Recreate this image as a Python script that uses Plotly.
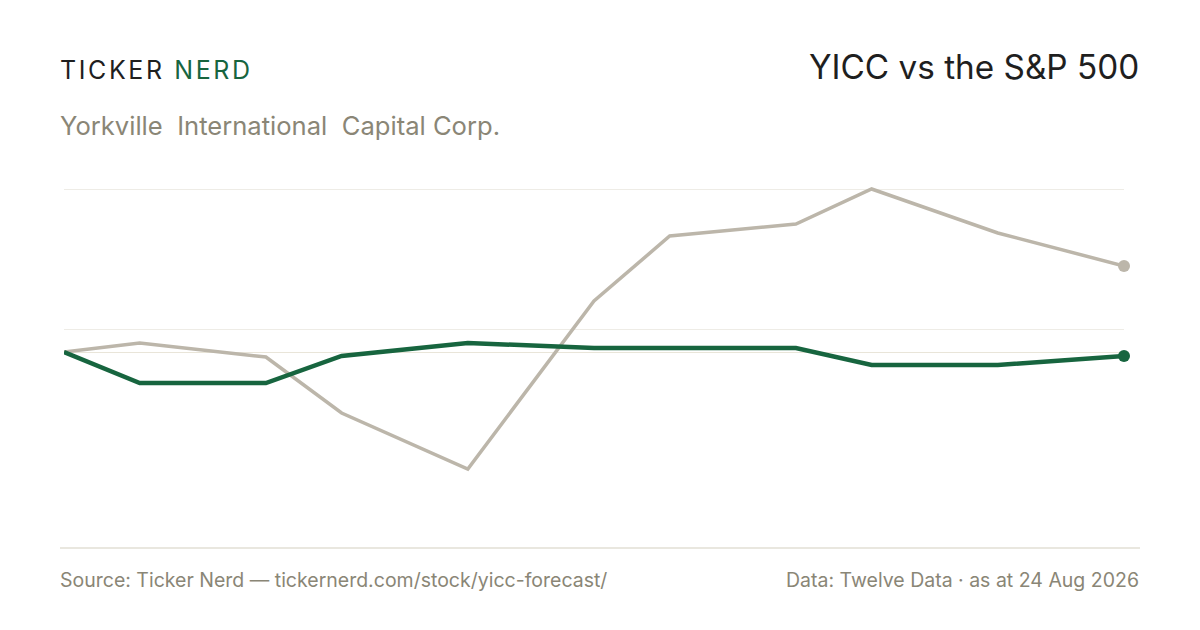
import plotly.graph_objects as go

# ================= DATA =================
# x = spacing of the points along the time axis (arbitrary units)
X_POS = [0, 3, 8, 11, 16, 21, 24, 29, 32, 37, 42]
# % change, rebased to the first point
YICC = [0.0, -3.1, -3.1, -0.4, 0.9, 0.4, 0.4, 0.4, -1.3, -1.3, -0.4]
SP500 = [0.0, 0.9, -0.5, -6.1, -11.7, 5.1, 11.6, 12.8, 16.3, 11.9, 8.6]
GRID_VALS = [2.3, 16.3]

TITLE = "YICC vs the S&P 500"
COMPANY = "Yorkville  International  Capital Corp."
SOURCE = "Source: Ticker Nerd \u2014 tickernerd.com/stock/yicc-forecast/"
DATA_NOTE = "Data: Twelve Data \u00b7 as at 24 Aug 2026"

# ================= STYLE =================
W, H = 1200, 630
OFF = 8  # page body margin
ML, MR, MT, MB = 64 - OFF, 84, 169 - OFF, 149
GREEN = "#17653f"
GREY_LINE = "#bcb6aa"
GREY_TEXT = "#8a8676"
FONT = "Inter"


def px_x(px):
    return (px - OFF - ML) / (W - ML - MR)


def px_y(py):
    return (H - MB - (py - OFF)) / (H - MT - MB)


fig = go.Figure()

fig.add_trace(go.Scatter(
    x=X_POS, y=SP500, mode="lines",
    line=dict(color=GREY_LINE, width=3.5),
    cliponaxis=False, hoverinfo="skip", name="S&P 500"
))
fig.add_trace(go.Scatter(
    x=X_POS[-1:], y=SP500[-1:], mode="markers",
    marker=dict(color=GREY_LINE, size=12),
    cliponaxis=False, hoverinfo="skip", showlegend=False
))
fig.add_trace(go.Scatter(
    x=X_POS, y=YICC, mode="lines",
    line=dict(color=GREEN, width=4.5),
    cliponaxis=False, hoverinfo="skip", name="YICC"
))
fig.add_trace(go.Scatter(
    x=X_POS[-1:], y=YICC[-1:], mode="markers",
    marker=dict(color=GREEN, size=12),
    cliponaxis=False, hoverinfo="skip", showlegend=False
))

fig.update_xaxes(
    range=[X_POS[0], X_POS[-1]], showgrid=False, zeroline=False,
    showticklabels=False, showline=False, fixedrange=True
)
fig.update_yaxes(
    range=[-13.7, 18.3], tickvals=GRID_VALS, showticklabels=False,
    showgrid=True, gridcolor="#eeece6", gridwidth=1.2,
    zeroline=True, zerolinecolor="#e9e5d9", zerolinewidth=1.2,
    showline=False, fixedrange=True
)

annotations = [
    dict(
        text=("<span style='letter-spacing:2.6px'>TICKER</span>"
              "<span style='letter-spacing:2.6px;color:" + GREEN + "'> NERD</span>"),
        x=px_x(58), y=px_y(70), xanchor="left", yanchor="middle",
        font=dict(family=FONT, size=25, color="#1f1f1f")
    ),
    dict(
        text=TITLE, x=px_x(1141), y=px_y(67), xanchor="right", yanchor="middle",
        font=dict(family=FONT, size=33.3, color="#1f1f1f")
    ),
    dict(
        text=COMPANY, x=px_x(58), y=px_y(125), xanchor="left", yanchor="middle",
        font=dict(family=FONT, size=25.6, color=GREY_TEXT)
    ),
    dict(
        text=SOURCE, x=px_x(58), y=px_y(580), xanchor="left", yanchor="middle",
        font=dict(family=FONT, size=19.5, color=GREY_TEXT)
    ),
    dict(
        text=DATA_NOTE, x=px_x(1141), y=px_y(580), xanchor="right", yanchor="middle",
        font=dict(family=FONT, size=19.5, color=GREY_TEXT)
    ),
]
for a in annotations:
    a.update(xref="paper", yref="paper", showarrow=False)

fig.update_layout(
    width=W, height=H,
    margin=dict(l=ML, r=MR, t=MT, b=MB),
    paper_bgcolor="white", plot_bgcolor="white",
    showlegend=False,
    annotations=annotations,
    shapes=[dict(
        type="line", xref="paper", yref="paper",
        x0=px_x(60), x1=px_x(1140), y0=px_y(548), y1=px_y(548),
        line=dict(color="#e2dfd5", width=1.5)
    )],
)

fig.write_html("out.html", config={"displayModeBar": False})
